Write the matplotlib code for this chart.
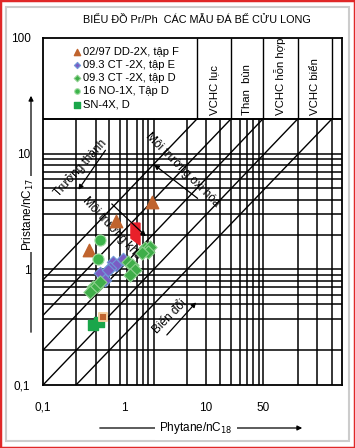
import matplotlib
matplotlib.use("Agg")
import matplotlib.pyplot as plt
from matplotlib.patches import Rectangle

plt.rcParams['font.family'] = ['Liberation Sans', 'DejaVu Sans']

# ---- du lieu (doc tu hinh) ----
tap_f_x = [2.17, 0.79, 0.37]          # 02/97 DD-2X, tap F
tap_f_y = [3.82, 2.61, 1.47]
ct_e_x = [0.96, 0.72, 0.79, 0.66, 0.54, 0.50, 0.58, 0.63]   # 09.3 CT-2X, tap E
ct_e_y = [1.23, 1.16, 1.09, 1.03, 0.89, 0.93, 0.81, 0.99]
ct_d_x = [1.10, 1.23, 1.35, 1.17, 1.79, 2.05, 1.94, 1.64, 0.41, 0.38, 0.46, 0.50]  # 09.3 CT-2X, tap D
ct_d_y = [1.16, 1.09, 0.99, 0.89, 1.53, 1.56, 1.41, 1.38, 0.70, 0.64, 0.72, 0.78]
no_x = [0.50, 0.47]                    # 16 NO-1X, Tap D
no_y = [1.79, 1.23]
sn_x = [0.41, 0.49]                    # SN-4X, D
sn_y = [0.33, 0.35]
cam_x = [0.54]                         # diem cam le
cam_y = [0.39]
do_x = [1.20, 1.55, 1.55, 1.20]        # vung do
do_y = [2.51, 2.51, 1.62, 1.86]

# luoi giay log
doc_x = [0.254, 0.447, 0.646, 0.881, 1.07, 1.42, 1.69, 1.94, 2.30, 5.85,
         10, 14.9, 20.3, 26.1, 31.8, 37.7, 44.7, 50, 134, 230, 352]
ngang_y = [10, 9, 8, 7, 6, 5, 4, 3, 2, 1, 0.9, 0.8, 0.7, 0.6, 0.5, 0.37, 0.2]
cot_x = [7.77, 20.3, 50, 134, 352]
cot_ten = ['VCHC lục', 'Than  bùn', 'VCHC hỗn hợp', 'VCHC biển']
cheo_x0 = [0.1, 0.1, 0.1, 0.1, 0.254]
cheo_y0 = [0.81, 0.40, 0.20, 0.1, 0.1]
y_hop = 20

fig = plt.figure(figsize=(3.55, 4.48), dpi=100)
fig.patches.append(Rectangle((0.0, 0.0), 1, 1, transform=fig.transFigure,
                             fill=False, ec='#e02828', lw=2.5))
fig.patches.append(Rectangle((6 / 355, 7 / 448), 343 / 355, 434 / 448,
                             transform=fig.transFigure, fill=False, ec='#cccccc', lw=1.5))

ax = fig.add_axes([43 / 355, 63 / 448, 299 / 355, 347 / 448])
ax.set_xscale('log')
ax.set_yscale('log')
ax.set_xlim(0.1, 467)
ax.set_ylim(0.1, 100)

ax.vlines(doc_x, 0.1, y_hop, color='black', lw=1.1, zorder=1)
ax.hlines(ngang_y, 0.1, 467, color='black', lw=1.1, zorder=1)
ax.hlines([y_hop], 0.1, 467, color='black', lw=1.4, zorder=1)
ax.vlines(cot_x, y_hop, 100, color='black', lw=1.0, zorder=1)
for i in range(len(cheo_x0)):
    ax.plot([cheo_x0[i], cot_x[i]], [cheo_y0[i], y_hop], color='black', lw=1.0, zorder=1)

for i, t in enumerate(cot_ten):
    xm = (cot_x[i] * cot_x[i + 1]) ** 0.5
    ax.text(xm, 21.5, t, rotation=90, ha='center', va='bottom', fontsize=8.2)

# cac diem mau
ax.fill(do_x, do_y, color='#e8202a', zorder=3)
ax.scatter(tap_f_x, tap_f_y, marker='^', s=80, color='#c0642e', zorder=4,
           label='02/97 DD-2X, tập F')
ax.scatter(ct_e_x, ct_e_y, marker='D', s=40, color='#7a5cc4', ec='#6f9ad8', lw=0.8, zorder=4,
           label='09.3 CT -2X, tập E')
ax.scatter(ct_d_x, ct_d_y, marker='D', s=45, color='#3fae49', ec='#8fd08f', lw=0.8, zorder=4,
           label='09.3 CT -2X, tập D')
ax.scatter(no_x, no_y, marker='o', s=65, color='#3cb44b', ec='#a5dca5', lw=0.8, zorder=4,
           label='16 NO-1X, Tập D')
ax.scatter(sn_x, sn_y, marker='s', s=55, color='#1aa64a', zorder=4, label='SN-4X, D')
ax.scatter(cam_x, cam_y, marker='s', s=40, color='#c0642e', ec='#f5d0a0', lw=1.4, zorder=5)

leg = ax.legend(loc='upper left', bbox_to_anchor=(0.085, 0.99), frameon=False,
                fontsize=8, handlelength=0.6, handletextpad=0.25, labelspacing=0.28,
                borderpad=0, markerscale=0.5)

# mui ten va chu
mui = dict(arrowstyle='-|>', color='black', lw=0.9, mutation_scale=7)
ax.annotate('', xy=(0.26, 4.66), xytext=(0.61, 11.2), arrowprops=mui)
ax.text(0.284, 7.5, 'Trưởng thành', rotation=48, ha='center', va='center', fontsize=8.5)
ax.annotate('', xy=(2.17, 8.3), xytext=(8.4, 3.97), arrowprops=mui)
ax.text(5.08, 7.2, 'Môi trường oxi hóa', rotation=-45, ha='center', va='center', fontsize=8.5)
ax.annotate('', xy=(1.94, 1.86), xytext=(0.66, 3.82), arrowprops=mui)
ax.text(0.72, 2.27, 'Môi trường khử', rotation=-47, ha='center', va='center', fontsize=8.5)
ax.annotate('', xy=(7.98, 0.54), xytext=(3.14, 0.26), arrowprops=mui)
ax.text(3.61, 0.39, 'Biến đổi', rotation=45, ha='center', va='center', fontsize=8.5)

for s in ax.spines.values():
    s.set_linewidth(1.3)
ax.set_xticks([0.1, 1, 10, 50])
ax.set_xticklabels(['0,1', '1', '10', '50'])
ax.set_yticks([0.1, 1, 10, 100])
ax.set_yticklabels(['0,1', '1', '10', '100'])
ax.minorticks_off()
ax.tick_params(length=0, labelsize=8.5)
ax.tick_params(axis='x', pad=12)
ax.tick_params(axis='y', pad=9)

fig.text(197 / 355, 1 - 20 / 448, 'BIỂU ĐỒ Pr/Ph  CÁC MẪU ĐÁ BỂ CỬU LONG',
         ha='center', va='center', fontsize=7.8)

# truc y: mui ten + nhan
ax.annotate('', xy=(31, 448 - 93), xytext=(31, 448 - 335), xycoords='figure pixels',
            arrowprops=dict(arrowstyle='-|>', color='black', lw=0.9, mutation_scale=7))
fig.text(28 / 355, 1 - 214 / 448, 'Pristane/nC$_{17}$', rotation=90, ha='center', va='center',
         fontsize=8.5, bbox=dict(fc='white', ec='none', pad=1))
# truc x
ax.annotate('', xy=(305, 448 - 428), xytext=(97, 448 - 428), xycoords='figure pixels',
            arrowprops=dict(arrowstyle='-|>', color='black', lw=0.9, mutation_scale=7))
fig.text(196 / 355, 1 - 428 / 448, 'Phytane/nC$_{18}$', ha='center', va='center',
         fontsize=8.5, bbox=dict(fc='white', ec='none', pad=3))

fig.savefig('out.png', dpi=100)
